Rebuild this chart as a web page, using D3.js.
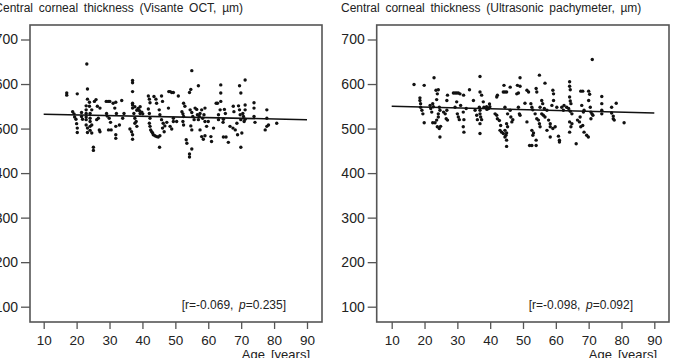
<!DOCTYPE html>
<html><head><meta charset="utf-8">
<script src="https://cdn.jsdelivr.net/npm/d3@7"></script>
<style>
body{margin:0;background:#fff;}
svg{display:block;}
text{font-family:"Liberation Sans Narrow","Arial Narrow","Liberation Sans",sans-serif;fill:#222;}
</style></head>
<body><svg id="c" width="694" height="358"></svg>
<script>
// ---------- data ----------
const xTicks = [10,20,30,40,50,60,70,80,90];
const yTicks = [100,200,300,400,500,600,700];
const titles = ["Central corneal thickness (Visante OCT, \u00b5m)",
                "Central corneal thickness (Ultrasonic pachymeter, \u00b5m)"];
const stats = [["-0.069","0.235"],["-0.098","0.092"]];
const xLabel = "Age [years]";

const leftAge = [17,17,20.2,18.8,19.2,19.4,19.8,20,20.2,20.2,21.5,21.5,21.8,
 23.1,23.3,23.3,22.9,22.9,22.9,22.9,22.9,22.9,23.3,23.3,23.9,23.9,24.1,24.1,24.1,24.1,24.1,24.6,24.6,24.6,25.1,25.1,25.4,25.9,26.3,26.6,26.1,26.9,27.1,27.1,
 29,29.6,30.1,29.1,29.3,29.9,30.3,29.7,30.5,31.1,31.6,32.1,31.9,31.9,31.9,31.9,33,33.7,34,34.4,
 36.2,36.7,37,37,37,37,37,37,37,37,37.4,37.7,37.7,37.7,38.3,38.7,39.1,39.3,39.3,39.8,40.1,38.3,38.1,
 41.8,42.1,42.3,41.8,42.1,42.3,42.1,42.3,42.5,42.8,43.1,43.3,43.8,44.3,44.8,45.3,43.5,44.1,44.3,45.8,46.1,45.1,45.3,45.8,46.3,46.8,47.4,45.2,46.1,46.6,48,48.4,48.9,49.4,47.9,48.4,48.9,49.4,50.4,49.4,50.9,
 52,52.3,52.5,52.3,52.5,52.5,52.9,53.3,53.5,54.3,54.7,54.5,55,55.3,55.7,55,54.7,55,55,54.3,54.3,56,56.5,56.7,57,57.3,57.5,58,58.3,58.7,59,59,57,57.5,58,58.5,59,59.5,60,
 60.8,61,61.6,62.4,62.8,63.1,63.1,63.6,63.8,63.8,63.8,64.5,64.6,64.9,65.2,64.6,65.4,66.1,66.6,67.6,67.8,67.5,68.2,68.7,68.9,69.2,69.5,69.7,69.9,69.5,69.9,69.9,70.2,71.2,70.5,70.7,70.9,71.2,71.2,71.2,
 73.9,73.9,73.9,74.2,77.8,77.8,77.3,77.8,78.3,80.8];
const leftCCT = [580,575,578,538,533,526,521,511,501,491,536,527,521,
 645,589,566,551,542,534,526,520,508,501,491,559,550,534,523,516,505,496,542,508,490,458,451,561,565,550,523,520,497,546,493,
 561,561,561,534,528,523,514,497,497,557,546,534,559,505,486,478,508,563,523,534,
 499,493,608,603,583,557,553,546,486,476,534,523,512,549,541,545,540,549,534,537,533,505,516,
 573,566,558,544,534,523,512,505,497,493,490,486,484,482,481,484,572,566,557,573,561,542,531,520,512,506,514,458,501,493,583,583,581,581,546,505,499,516,516,523,573,
 538,533,527,516,508,557,550,475,467,581,588,542,536,527,520,630,506,497,454,443,436,546,543,531,520,527,534,542,523,531,546,516,596,497,482,476,484,505,516,
 482,471,501,557,557,531,520,542,561,598,580,514,521,543,534,481,481,469,505,550,538,501,497,512,486,551,542,531,520,596,580,458,490,609,534,527,516,521,542,553,
 558,546,527,514,542,523,497,505,508,512];

const rightAge = [16.8,19.9,18.6,18.6,18.8,18.8,19.2,19.5,19.9,22.9,21.7,21.9,22.2,22.5,22.7,22.5,23.2,23.7,23.5,24.2,23.9,23.7,24.2,24.2,24.5,24.7,23.9,24.5,24.9,24.7,25.8,26.3,26.8,26.6,27,26.8,27,
 28.8,29.3,29.8,30.3,30.8,31.9,29.3,29.8,30,30.3,30.6,31,31.8,32,31.8,32,32.7,33.7,34.9,35.4,35.9,36.1,36.9,36.9,37.4,36.7,36.9,36.9,37.1,37.4,36.9,36.9,37.9,38.1,38.9,39.5,39.9,39.8,39,
 42,42.2,41.5,42,42.2,42.8,43.2,43,43.5,44,44.8,45,45,45,44.5,44.5,45.3,45,44,44.5,45,44.2,44.5,45.3,46.1,46.3,46.6,46.9,46.1,48.1,48.6,48.3,49.1,49.1,48.6,48.9,49.1,
 50.6,51.2,52,52.7,52.7,53.2,53,51.2,51.7,52.4,52.7,53,54,54.2,54,54,53.7,54.2,54.7,55,55.2,55,56.7,55.7,56,55.2,55.7,56.2,56.7,56.5,57.3,57.8,58.3,58.3,57.3,59.1,59.3,59.3,58.8,60.3,59.1,59.8,58.3,
 60.8,61.1,61.1,61.8,62.3,62.5,63.3,63.9,64.2,64.2,64.4,64.2,64.4,64.6,64.4,64.9,64.2,64.6,64.2,64.9,66.2,66.6,67.2,67.4,67.6,68.2,67.9,68.4,68.6,67.6,68.2,68.6,69.4,69.9,70,70.3,70,70.5,70.7,71,71.3,70.7,71.1,
 74,74,74,74,77,77,77.5,77.5,77.8,78.4,80.8];
const rightCCT = [599,597,569,563,556,548,541,533,513,614,552,545,537,556,549,513,513,519,586,587,578,565,533,526,548,541,504,500,505,481,537,533,541,522,575,563,519,
 580,580,580,580,578,575,548,560,533,526,520,552,537,520,504,492,545,587,563,541,530,520,617,582,575,548,541,533,526,520,511,489,560,548,549,545,549,555,543,
 571,575,533,530,522,518,507,496,492,489,485,490,474,460,481,496,504,511,582,582,582,597,548,533,541,526,515,520,593,578,580,597,614,595,548,533,530,
 557,515,462,462,496,490,485,586,582,556,548,542,590,582,462,474,533,522,519,511,504,620,602,563,556,548,533,530,526,545,541,519,511,504,496,586,578,563,552,548,500,504,481,
 483,474,470,548,541,552,548,545,605,595,587,571,562,556,539,533,492,504,515,511,466,519,515,526,584,584,552,537,541,504,507,492,485,481,584,577,563,548,537,533,530,522,655,
 572,556,541,533,548,535,528,522,519,557,513];

// regression lines (endpoints)
const fitAge = [10, 90];
const leftFit = [532, 520];
const rightFit = [550, 535];

// ---------- drawing ----------
const svg = d3.select("#c");
const panels = [
  {age:leftAge, cct:leftCCT, fit:leftFit, x0:43.7, x1:307, fl:30, fr:322},
  {age:rightAge, cct:rightCCT, fit:rightFit, x0:391.7, x1:654.3, fl:376.7, fr:669}
];
const fTop = 25, fBot = 322;
const narrow = '"Liberation Sans Narrow","Arial Narrow",sans-serif';

panels.forEach((p, i) => {
  const x = d3.scaleLinear().domain([10, 90]).range([p.x0, p.x1]);
  const y = d3.scaleLinear().domain([100, 700]).range([306.7, 39.5]);
  const g = svg.append("g");

  // frame
  g.append("rect").attr("x", p.fl).attr("y", fTop)
    .attr("width", p.fr - p.fl).attr("height", fBot - fTop)
    .attr("fill", "none").attr("stroke", "#555").attr("stroke-width", 1.6);

  // x axis
  const xa = g.append("g").attr("transform", `translate(0,${fBot})`)
    .call(d3.axisBottom(x).tickValues(xTicks).tickSize(7).tickPadding(6).tickFormat(d3.format("d")));
  xa.select(".domain").remove();
  xa.selectAll("line").attr("stroke", "#555").attr("stroke-width", 1.3);
  xa.selectAll("text").attr("font-size", 13.5).attr("fill", "#222").style("font-family", narrow);

  // y axis
  const ya = g.append("g").attr("transform", `translate(${p.fl},0)`)
    .call(d3.axisLeft(y).tickValues(yTicks).tickSize(9).tickPadding(3).tickFormat(d3.format("d")));
  ya.select(".domain").remove();
  ya.selectAll("line").attr("stroke", "#555").attr("stroke-width", 1.3);
  ya.selectAll("text").attr("font-size", 14).attr("fill", "#222").style("font-family", narrow);

  // points
  g.append("g").selectAll("circle").data(p.age.map((a, k) => [a, p.cct[k]]))
    .join("circle").attr("cx", d => x(d[0])).attr("cy", d => y(d[1]))
    .attr("r", 1.7).attr("fill", "#111");

  // regression line
  g.append("line").attr("x1", x(fitAge[0])).attr("y1", y(p.fit[0]))
    .attr("x2", x(fitAge[1])).attr("y2", y(p.fit[1]))
    .attr("stroke", "#111").attr("stroke-width", 1.5);

  // title
  g.append("text").attr("x", p.fl - 35.7).attr("y", 11.5).attr("font-size", 12)
    .attr("word-spacing", 2.4).text(titles[i]);

  // stats annotation
  const t = g.append("text").attr("x", p.fr - 36).attr("y", 309)
    .attr("text-anchor", "end").attr("font-size", 12).attr("word-spacing", 2.2);
  t.append("tspan").text(`[r=${stats[i][0]}, `);
  t.append("tspan").attr("font-style", "italic").text("p");
  t.append("tspan").text(`=${stats[i][1]}]`);

  // x label
  g.append("text").attr("x", p.fr - 12).attr("y", 359).attr("text-anchor", "end")
    .attr("font-size", 13).attr("word-spacing", 2.5).text(xLabel);
});
</script></body></html>
